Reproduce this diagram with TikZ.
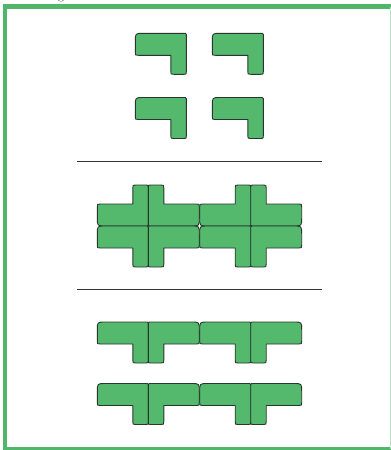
\documentclass[tikz,border=0pt]{standalone}
\usepackage{tikz}
\definecolor{framegreen}{RGB}{80,182,106}
\definecolor{piecegreen}{RGB}{84,184,109}
\definecolor{edgegray}{RGB}{40,55,45}
\tikzset{
  piece/.style={fill=piecegreen, draw=edgegray, line width=0.9pt, line join=round},
  rule/.style={draw=black!80, line width=0.9pt},
  lpiece/.pic={
    \path[piece] (0,8) .. controls (0,0) .. (8,0)
      -- (50,0) .. controls (51,0) .. (51,1)
      -- (51,38.5) .. controls (51,41) .. (48.5,41)
      -- (38.5,41) .. controls (35.5,41) .. (35.5,38)
      -- (35.5,22) -- (3,22) .. controls (0,22) .. (0,19) -- cycle;
  }
}
\begin{document}
\begin{tikzpicture}[x=1pt,y=-1pt]
\useasboundingbox (0,0) rectangle (391,450);
% frame (right side lies just outside the picture)
\draw[framegreen, line width=4.5pt] (400,6.5) -- (5,6.5) -- (5,449) -- (400,449);
\draw[framegreen!40, line width=1pt] (390.8,6.5) -- (390.8,449);
% cropped caption fragment
\node[anchor=base, font=\large, inner sep=0pt] (cap) at (61,-0.5) {g};
% top section: four separate pieces
\pic at (135.3,33.3) {lpiece};
\pic at (212.3,33.3) {lpiece};
\pic at (135.3,97.5) {lpiece};
\pic at (212.3,97.5) {lpiece};
% separator lines
\coordinate (r1a) at (77,161); \coordinate (r1b) at (322,161);
\coordinate (r2a) at (77,289); \coordinate (r2b) at (322,289);
\draw[rule] (r1a) -- (r1b);
\draw[rule] (r2a) -- (r2b);
% middle section: two crosses
\pic[yscale=-1] at (97.3,226) {lpiece};
\pic[xscale=-1,yscale=-1] at (199.3,226) {lpiece};
\pic at (97.3,226) {lpiece};
\pic[xscale=-1] at (199.3,226) {lpiece};
\pic[yscale=-1] at (199.7,226) {lpiece};
\pic[xscale=-1,yscale=-1] at (301.7,226) {lpiece};
\pic at (199.7,226) {lpiece};
\pic[xscale=-1] at (301.7,226) {lpiece};
% bottom section: T shapes
\pic at (97.3,322) {lpiece};
\pic[xscale=-1] at (199.3,322) {lpiece};
\pic at (199.7,322) {lpiece};
\pic[xscale=-1] at (301.7,322) {lpiece};
\pic at (97.3,383.5) {lpiece};
\pic[xscale=-1] at (199.3,383.5) {lpiece};
\pic at (199.7,383.5) {lpiece};
\pic[xscale=-1] at (301.7,383.5) {lpiece};
\end{tikzpicture}
\end{document}
